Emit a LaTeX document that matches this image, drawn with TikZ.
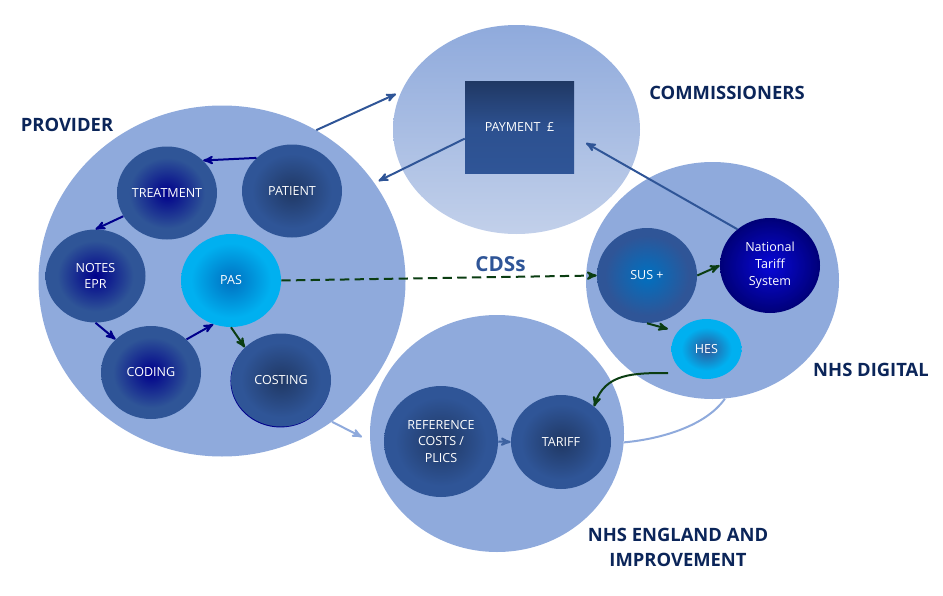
\documentclass[tikz,border=0pt]{standalone}
\usepackage{fontspec}
\setmainfont{Open Sans}
\usetikzlibrary{positioning, arrows, shapes.geometric, shadows}
\definecolor{bigfill}{HTML}{8FAADC}
\definecolor{midblue}{HTML}{2F5597}
\definecolor{darkmid}{HTML}{203864}
\definecolor{navyline}{HTML}{00008B}
\definecolor{greenline}{HTML}{0B3D12}
\definecolor{titleblue}{HTML}{0B2559}
\definecolor{skyblue}{HTML}{00B0F0}
\definecolor{seablue}{HTML}{0070C0}
\definecolor{paleblue}{HTML}{C2D0EA}
\definecolor{brightnavy}{HTML}{0808D8}
\definecolor{edgenavy}{HTML}{000078}
\pgfdeclareradialshading{darkcore}{\pgfpointorigin}{color(0bp)=(darkmid); color(20bp)=(midblue); color(100bp)=(midblue)}
\pgfdeclareradialshading{navycore}{\pgfpointorigin}{color(0bp)=(navyline); color(19bp)=(midblue); color(100bp)=(midblue)}
\pgfdeclareradialshading{pascore}{\pgfpointorigin}{color(0bp)=(seablue); color(20bp)=(skyblue); color(100bp)=(skyblue)}
\pgfdeclareradialshading{suscore}{\pgfpointorigin}{color(0bp)=(seablue); color(21bp)=(midblue); color(100bp)=(midblue)}
\pgfdeclareradialshading{systemcore}{\pgfpointorigin}{color(0bp)=(brightnavy); color(25bp)=(edgenavy); color(100bp)=(edgenavy)}
\pgfdeclareradialshading{hescore}{\pgfpointorigin}{color(0bp)=(midblue); color(18bp)=(skyblue); color(100bp)=(skyblue)}
\tikzset{%
  x=0.75pt, y=-0.75pt,
  blob/.style={ellipse, inner sep=0pt, text=white, align=center,
    minimum width=100*0.75pt, minimum height=93*0.75pt,
    font=\fontsize{9.4}{12.6}\selectfont},
  bigblob/.style={ellipse, inner sep=0pt, fill=bigfill},
  darkblob/.style={blob, shading=darkcore},
  navyblob/.style={blob, shading=navycore},
  heading/.style={font=\fontsize{13.8}{18.8}\selectfont\bfseries,
    text=titleblue, align=center, inner sep=0pt},
  every edge/.style={
    draw,
    ->,
    >=stealth',
    line width=1.5pt}
}
\begin{document}
\begin{tikzpicture}
    \useasboundingbox (0,0) rectangle (943,596);

    % outer groups
    \node[bigblob, minimum width=367*0.75pt, minimum height=351*0.75pt] (provider) at (222,281) {};
    \node[ellipse, inner sep=0pt, top color=bigfill, middle color=bigfill!82!paleblue, bottom color=paleblue,
      minimum width=247*0.75pt, minimum height=209*0.75pt] (commissioners) at (516.5,129.5) {};
    \node[bigblob, minimum width=253*0.75pt, minimum height=237*0.75pt] (digital) at (712.5,280.5) {};
    \node[bigblob, minimum width=254*0.75pt, minimum height=237*0.75pt] (england) at (497,433.5) {};

    % provider
    \node[navyblob] (treatment) at (167,193) {TREATMENT};
    \node[darkblob] (patient) at (292,191) {PATIENT};
    \node[navyblob] (notes) at (95.5,276) {NOTES\\EPR};
    \node[blob, shading=pascore] (pas) at (231,280.5) {PAS};
    \node[navyblob] (coding) at (151,372.5) {CODING};
    \node[darkblob, general shadow={fill=navyline, shadow xshift=-0.4pt, shadow yshift=-0.7pt}] (costing) at (281,380) {COSTING};

    % commissioners
    \node[rectangle, inner sep=0pt, text=white, minimum width=109*0.75pt,
      minimum height=92*0.75pt, top color=darkmid, bottom color=midblue,
      middle color=midblue!85!darkmid, font=\fontsize{9.4}{12.6}\selectfont]
      (payment) at (519.5,127) {PAYMENT\ \ £};

    % nhs digital
    \node[blob, minimum height=95*0.75pt, shading=suscore] (sus) at (647,275.5) {SUS +};
    \node[blob, minimum height=95*0.75pt, shading=systemcore] (tariffsys) at (770,265.5) {National\\Tariff\\System};
    \node[blob, minimum width=70*0.75pt, minimum height=60*0.75pt, shading=hescore] (hes) at (706.5,349) {HES};

    % nhs england
    \node[darkblob, minimum width=114*0.75pt, minimum height=111*0.75pt] (reference) at (441,441.5) {REFERENCE\\COSTS /\\PLICS};
    \node[darkblob, minimum height=94*0.75pt] (tariff) at (561,442) {TARIFF};

    % headings
    \node[heading] (providerlabel) at (67,125) {PROVIDER};
    \node[heading] (commlabel) at (727,93) {COMMISSIONERS};
    \node[heading] (digitallabel) at (871,369.5) {NHS DIGITAL};
    \node[heading] (englandlabel) at (678,547.5) {NHS ENGLAND AND\\IMPROVEMENT};
    \node[heading, text=midblue, font=\fontsize{15.5}{18}\selectfont\bfseries] (cdslabel) at (500.5,264) {CDSs};

    % free ends
    \coordinate (commin) at (396,94);
    \coordinate (provin) at (378.5,181);
    \coordinate (payin) at (586,143);
    \coordinate (engin) at (362,437);
    \coordinate (hesin) at (668,329);
    \coordinate (hesout) at (668,373);

    \draw[midblue]
      (provider.58) edge (commin)
      (payment.192) edge (provin)
      (tariffsys.132) edge (payin)
    ;
    \draw[navyline]
      (patient.137) edge (treatment.42)
      (treatment.208) edge (notes.90)
      (notes.270) edge (coding.137)
      (coding.43) edge (pas.248)
    ;
    \draw[greenline]
      (pas.270) edge (costing.138)
      (pas.east) edge [dash pattern=on 7pt off 4pt] (sus.west)
      (sus.east) edge (tariffsys.west)
      (sus.270) edge (hesin)
      (hesout) edge [out=180, in=72, looseness=1.1] (tariff.47)
    ;
    \draw[midblue!85!bigfill]
      (reference.east) edge (tariff.west)
    ;
    \draw[bigfill]
      (provider.-52) edge (engin)
      (england.-4) edge [-, out=5, in=235, looseness=0.8] (digital.276)
    ;

\end{tikzpicture}
\end{document}
